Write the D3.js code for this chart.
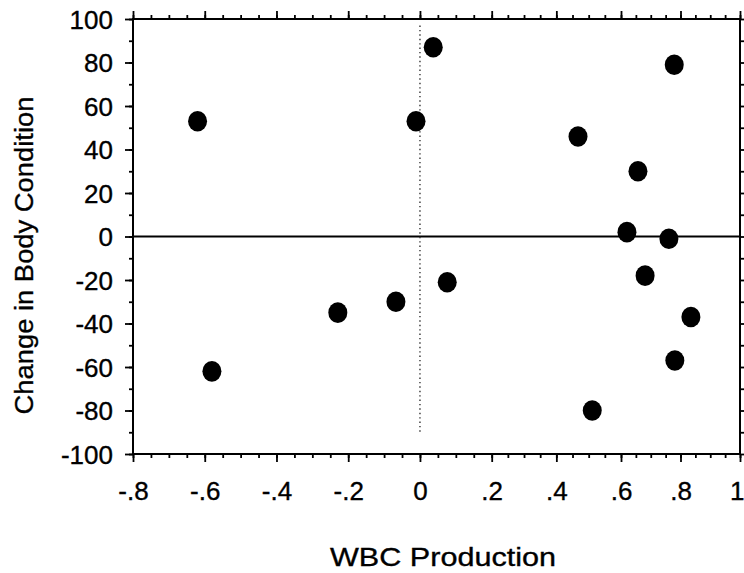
<!DOCTYPE html>
<html>
<head>
<meta charset="utf-8">
<script src="https://cdn.jsdelivr.net/npm/d3@7/dist/d3.min.js"></script>
<style>
  html, body { margin: 0; padding: 0; background: #fff; }
  svg { display: block; }
  text { font-family: "Liberation Sans", Arial, Helvetica, sans-serif; fill: #000; stroke: #000; stroke-width: 0.35px; }
</style>
</head>
<body>
<svg id="chart" width="744" height="573"></svg>
<script>
// WBC production vs. change in body condition
const wbcProduction = [-0.620, -0.580, -0.229, -0.067, -0.011, 0.037, 0.076, 0.467,
                       0.657, 0.620, 0.761, 0.779, 0.681, 0.835, 0.781, 0.511];
const bodyCondition = [53, -62, -35, -30, 53, 87, -21, 46,
                       30, 2, -1, 79, -18, -37, -57, -80];

const xTickValues = [-0.8, -0.6, -0.4, -0.2, 0, 0.2, 0.4, 0.6, 0.8, 1];
const xTickLabels = ["-.8", "-.6", "-.4", "-.2", "0", ".2", ".4", ".6", ".8", "1"];
const yTickValues = [-100, -80, -60, -40, -20, 0, 20, 40, 60, 80, 100];
const yTickLabels = ["-100", "-80", "-60", "-40", "-20", "0", "20", "40", "60", "80", "100"];

const xTitle = "WBC Production";
const yTitle = "Change in Body Condition";

const svg = d3.select("#chart");

const plot = { left: 133, right: 740, top: 19, bottom: 454 };

// x spacing narrows slightly toward the right end of the axis
const x = d3.scaleLinear()
  .domain([-0.8, 0.2, 0.6, 1])
  .range([plot.left, 491.7, 621, plot.right]);
const y = d3.scaleLinear()
  .domain([-100, 100])
  .range([plot.bottom, plot.top]);

const xMinor = d3.range(-0.8, 1.0001, 0.05).map(v => +v.toFixed(2));
const yMinor = d3.range(-100, 101, 10);

function styleAxis(g) {
  g.select(".domain").remove();
  g.selectAll(".tick line").attr("stroke", "#000").attr("stroke-width", 1.8);
}

// bottom axis: minor + major ticks, labels
svg.append("g").attr("transform", `translate(0,${plot.bottom})`)
  .call(d3.axisBottom(x).tickValues(xMinor).tickSize(4).tickFormat(""))
  .call(styleAxis);
svg.append("g").attr("transform", `translate(0,${plot.bottom})`)
  .call(d3.axisBottom(x).tickValues(xTickValues).tickSize(8)
    .tickFormat((d, i) => xTickLabels[i]).tickPadding(38))
  .call(styleAxis)
  .call(g => g.selectAll("text").attr("font-size", 26).attr("dy", "0"))
  // keep the last label inside the canvas
  .call(g => g.selectAll("text").filter(d => d === 1)
    .attr("text-anchor", "end").attr("dx", 4));

// top axis: ticks only
svg.append("g").attr("transform", `translate(0,${plot.top})`)
  .call(d3.axisTop(x).tickValues(xMinor).tickSize(4).tickFormat(""))
  .call(styleAxis);
svg.append("g").attr("transform", `translate(0,${plot.top})`)
  .call(d3.axisTop(x).tickValues(xTickValues).tickSize(8).tickFormat(""))
  .call(styleAxis);

// left axis
svg.append("g").attr("transform", `translate(${plot.left},0)`)
  .call(d3.axisLeft(y).tickValues(yMinor).tickSize(4).tickFormat(""))
  .call(styleAxis);
svg.append("g").attr("transform", `translate(${plot.left},0)`)
  .call(d3.axisLeft(y).tickValues(yTickValues).tickSize(8)
    .tickFormat((d, i) => yTickLabels[i]).tickPadding(12))
  .call(styleAxis)
  .call(g => g.selectAll("text").attr("font-size", 26).attr("dy", "0.36em"));

// right axis: ticks only
svg.append("g").attr("transform", `translate(${plot.right},0)`)
  .call(d3.axisRight(y).tickValues(yMinor).tickSize(4).tickFormat(""))
  .call(styleAxis);

// frame
svg.append("rect")
  .attr("x", plot.left).attr("y", plot.top)
  .attr("width", plot.right - plot.left).attr("height", plot.bottom - plot.top)
  .attr("fill", "none").attr("stroke", "#000").attr("stroke-width", 2);

// reference lines at zero
svg.append("line")
  .attr("x1", plot.left).attr("x2", plot.right)
  .attr("y1", y(0)).attr("y2", y(0))
  .attr("stroke", "#000").attr("stroke-width", 2.2);
svg.append("line")
  .attr("x1", x(0)).attr("x2", x(0))
  .attr("y1", y(97)).attr("y2", y(-90))
  .attr("stroke", "#333").attr("stroke-width", 1.4)
  .attr("stroke-dasharray", "1.4,3");

// data points
svg.append("g").selectAll("ellipse")
  .data(wbcProduction.map((v, i) => ({ x: v, y: bodyCondition[i] })))
  .join("ellipse")
  .attr("cx", d => x(d.x))
  .attr("cy", d => y(d.y))
  .attr("rx", 9.5).attr("ry", 10.3)
  .attr("fill", "#000");

// axis titles
svg.append("text")
  .attr("x", 443).attr("y", 566)
  .attr("text-anchor", "middle")
  .attr("font-size", 26)
  .attr("textLength", 226)
  .attr("lengthAdjust", "spacingAndGlyphs")
  .text(xTitle);
svg.append("text")
  .attr("transform", `translate(33,${(plot.top + plot.bottom) / 2 + 19}) rotate(-90)`)
  .attr("text-anchor", "middle")
  .attr("font-size", 26)
  .attr("textLength", 318)
  .attr("lengthAdjust", "spacingAndGlyphs")
  .text(yTitle);
</script>
</body>
</html>
